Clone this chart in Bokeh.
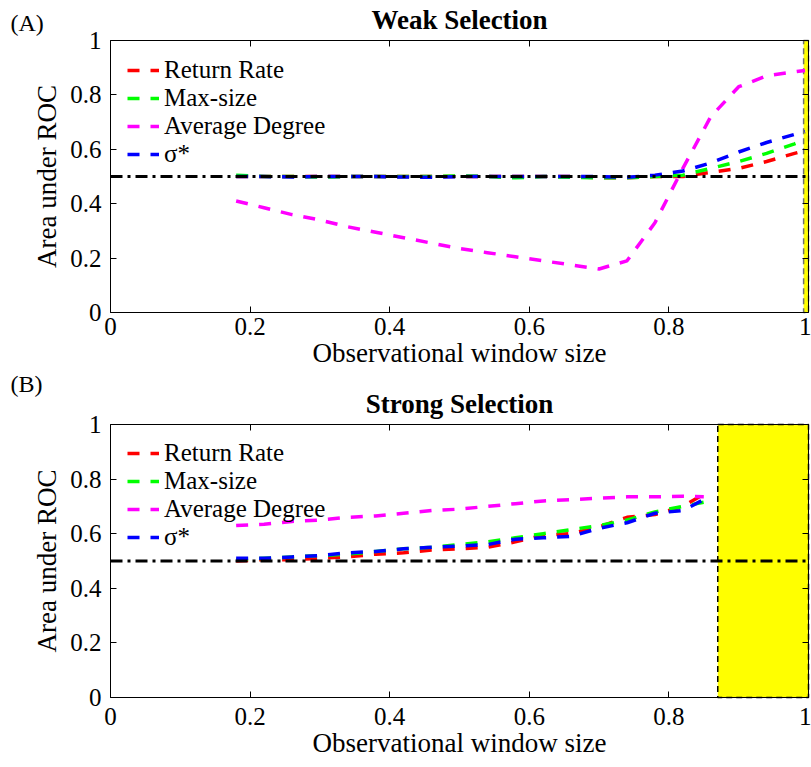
from bokeh.plotting import figure
from bokeh.layouts import column
from bokeh.models import (FixedTicker, CustomJSTickFormatter, Label, LinearAxis,
                          Range1d)
from bokeh.embed import file_html
from bokeh.resources import INLINE

FONT = "Liberation Serif"

# ---------------- data ----------------
ticks = [0, 0.2, 0.4, 0.6, 0.8, 1.0]
xlim = (0, 1)
ylim = (0, 1)
chance_level = 0.5

# Panel A: weak selection
xA = [0.18, 0.22, 0.26, 0.30, 0.34, 0.38, 0.42, 0.46, 0.50, 0.54, 0.58,
      0.62, 0.66, 0.70, 0.74, 0.78, 0.82, 0.86, 0.90, 0.94, 0.98, 0.995]
returnA = [0.50, 0.50, 0.50, 0.50, 0.50, 0.50, 0.50, 0.50, 0.50, 0.50, 0.50,
           0.50, 0.50, 0.495, 0.495, 0.50, 0.50, 0.515, 0.53, 0.555, 0.585, 0.595]
maxsizeA = [0.505, 0.50, 0.50, 0.498, 0.50, 0.50, 0.50, 0.50, 0.502, 0.50, 0.495,
            0.50, 0.497, 0.495, 0.495, 0.50, 0.505, 0.53, 0.555, 0.585, 0.62, 0.635]
degreeA = [0.41, 0.385, 0.36, 0.34, 0.315, 0.295, 0.275, 0.255, 0.235, 0.22, 0.205,
           0.19, 0.175, 0.16, 0.19, 0.33, 0.53, 0.72, 0.83, 0.87, 0.885, 0.89]
sigmaA = [0.50, 0.50, 0.498, 0.50, 0.50, 0.50, 0.498, 0.497, 0.50, 0.50, 0.50,
          0.50, 0.50, 0.50, 0.497, 0.505, 0.52, 0.55, 0.59, 0.625, 0.655, 0.665]
shadeA = 0.993

# Panel B: strong selection
xB = [0.18, 0.22, 0.26, 0.30, 0.34, 0.38, 0.42, 0.46, 0.50, 0.54, 0.58,
      0.62, 0.66, 0.70, 0.74, 0.78, 0.82, 0.85]
returnB = [0.50, 0.505, 0.505, 0.51, 0.515, 0.525, 0.53, 0.54, 0.545, 0.55, 0.57,
           0.595, 0.60, 0.625, 0.66, 0.67, 0.70, 0.745]
maxsizeB = [0.505, 0.51, 0.515, 0.52, 0.525, 0.535, 0.545, 0.55, 0.56, 0.57, 0.585,
            0.60, 0.615, 0.63, 0.65, 0.68, 0.70, 0.715]
degreeB = [0.63, 0.635, 0.645, 0.65, 0.66, 0.665, 0.675, 0.685, 0.69, 0.70, 0.71,
           0.72, 0.725, 0.73, 0.735, 0.735, 0.737, 0.735]
sigmaB = [0.51, 0.51, 0.515, 0.52, 0.53, 0.535, 0.545, 0.55, 0.555, 0.56, 0.58,
          0.585, 0.59, 0.62, 0.64, 0.675, 0.685, 0.725]
shadeB = 0.87

names = ["Return Rate", "Max-size", "Average Degree", "σ*"]
colors = ["#ff0000", "#00ff00", "#ff00ff", "#0000ff"]

fmt = CustomJSTickFormatter(code="return tick.toFixed(1).replace(/\\.0$/, '');")
blank = CustomJSTickFormatter(code="return '';")

# ---------------- layout (pixels) ----------------
W = 811
LEFT_PX, RIGHT_PX = 110, 808


def make_axis(loc, label=None, tick_in=0, tick_out=0, labelled=True):
    ax = LinearAxis(fixed_location=loc, bounds=xlim, ticker=FixedTicker(ticks=ticks),
                    major_tick_in=tick_in, major_tick_out=tick_out,
                    minor_tick_line_color=None, axis_line_color="black",
                    major_tick_line_color="black", major_tick_line_width=1)
    if labelled:
        ax.formatter = fmt
        ax.major_label_text_font = FONT
        ax.major_label_text_font_size = "25px"
        ax.major_label_text_color = "black"
    else:
        ax.formatter = blank
    if label:
        ax.axis_label = label
        ax.axis_label_text_font = FONT
        ax.axis_label_text_font_size = "27px"
        ax.axis_label_text_font_style = "normal"
        ax.axis_label_text_color = "black"
    return ax


def make_panel(tag, title, x, series, shade_start, shade_line, H, ftop, fbot,
               title_dy, tag_dy, legend_vy, xtick_standoff):
    kx = RIGHT_PX - LEFT_PX
    ky = fbot - ftop
    xr = Range1d(xlim[0] - LEFT_PX / kx, xlim[1] + (W - RIGHT_PX) / kx)
    yr = Range1d(ylim[0] - (H - fbot) / ky, ylim[1] + ftop / ky)
    p = figure(width=W, height=H, x_range=xr, y_range=yr,
               x_axis_location=None, y_axis_location=None,
               output_backend="svg", toolbar_location=None,
               min_border=0)
    p.outline_line_color = None
    p.background_fill_color = "white"
    p.border_fill_color = "white"
    p.xgrid.visible = False
    p.ygrid.visible = False

    xax = make_axis(ylim[0], "Observational window size", tick_in=6)
    xax.major_label_standoff = xtick_standoff
    xax.axis_label_standoff = 0
    p.add_layout(xax, "below")
    yax = make_axis(xlim[0], "Area under ROC", tick_in=6)
    yax.major_label_standoff = 9
    yax.axis_label_standoff = 5
    p.add_layout(yax, "left")
    top_edge = make_axis(ylim[1], tick_out=6, labelled=False)
    p.add_layout(top_edge, "below")
    right_edge = make_axis(xlim[1], tick_out=6, labelled=False)
    p.add_layout(right_edge, "left")

    p.quad(left=shade_start, right=xlim[1], bottom=ylim[0], top=ylim[1],
           fill_color="yellow", line_color=shade_line, line_dash="6 4", line_width=1.5)

    for name, col, y in zip(names, colors, series):
        p.line(x, y, line_color=col, line_width=3.5, line_dash="12 11",
               legend_label=name)

    p.segment(x0=xlim[0], x1=xlim[1], y0=chance_level, y1=chance_level,
              line_color="black", line_width=3, line_dash="12 5 3 5")

    lg = p.legend[0]
    lg.border_line_color = None
    lg.background_fill_alpha = 0
    lg.label_text_font = FONT
    lg.label_text_font_size = "25px"
    lg.label_text_color = "black"
    lg.glyph_width = 32
    lg.glyph_height = 24
    lg.label_height = 24
    lg.label_standoff = 5
    lg.spacing = 0
    lg.padding = 6
    lg.margin = 0
    lg.location = (127, legend_vy)

    p.add_layout(Label(x=(xlim[0] + xlim[1]) / 2, y=ylim[1] + title_dy / ky, text=title,
                       text_font=FONT, text_font_size="27px", text_font_style="bold",
                       text_color="black",
                       text_baseline="middle", text_align="center"))
    p.add_layout(Label(x=xlim[0] - 100 / kx, y=ylim[1] + tag_dy / ky, text=tag,
                       text_font=FONT, text_font_size="24px", text_baseline="middle",
                       text_color="black", text_align="left"))
    return p


pA = make_panel("(A)", "Weak Selection", xA, [returnA, maxsizeA, degreeA, sigmaA],
                shadeA, "#707070", 370, 40, 312, 21, 18, 202, 5)
pB = make_panel("(B)", "Strong Selection", xB, [returnB, maxsizeB, degreeB, sigmaB],
                shadeB, "black", 397, 54, 327, 21, 41, 216, 10)

layout = column(pA, pB, spacing=0)
open("out.html", "w").write(file_html(layout, INLINE))
